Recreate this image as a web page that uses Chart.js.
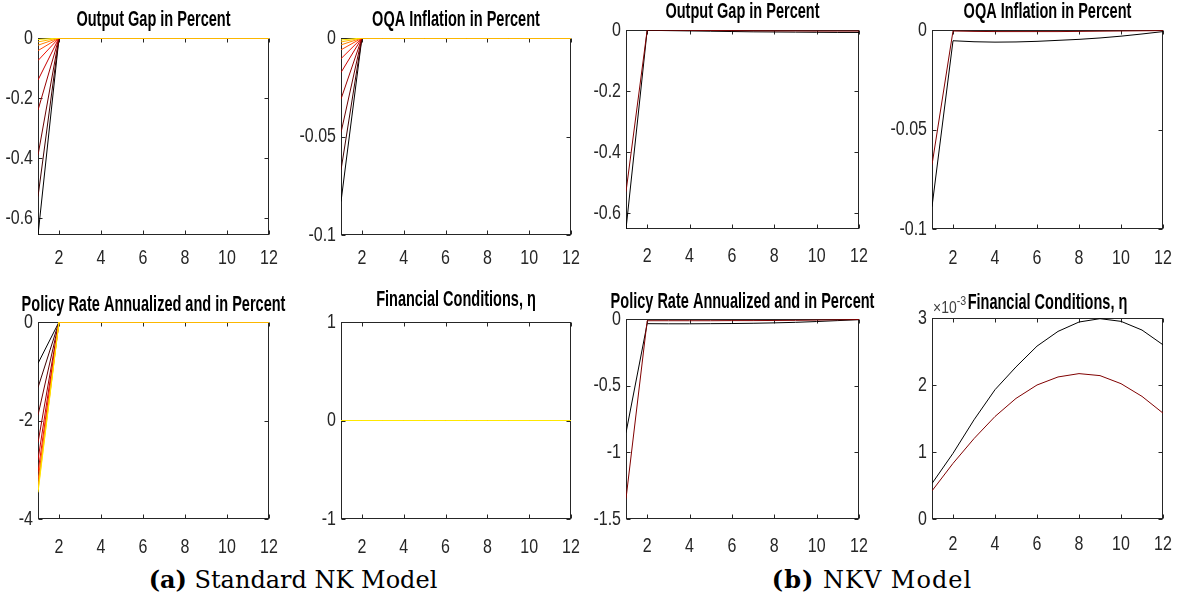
<!DOCTYPE html>
<html>
<head>
<meta charset="utf-8">
<script src="https://cdn.jsdelivr.net/npm/chart.js@4.4.0/dist/chart.umd.min.js"></script>
<style>
  body { margin: 0; background: #fff; width: 1185px; height: 601px; position: relative; overflow: hidden; }
  canvas { position: absolute; }
  .caption { position: absolute; top: 568px; font-family: 'DejaVu Serif', serif; font-size: 24px; line-height: 24px; color: #000; white-space: nowrap; transform: translateX(-50%); }
</style>
</head>
<body>
<div class="caption" style="left:293px"><b>(a)</b> Standard NK Model</div>
<div class="caption" style="left:872px; letter-spacing:1px"><b>(b)</b> NKV Model</div>
<script>
// quarters after the shock
const periods = [1, 2, 3, 4, 5, 6, 7, 8, 9, 10, 11, 12];
const xTickValues = [2, 4, 6, 8, 10, 12];
const zerosAfterImpact = [0, 0, 0, 0, 0, 0, 0, 0, 0, 0, 0];

// Standard NK model: impact response per calibration, black -> yellow
const hotColors = ['#000000', '#3c0000', '#6a0000', '#980000', '#c80000', '#f01000', '#ff4800', '#ff8000', '#ffb800', '#ffe800'];
const nkOutputGapImpact = [-0.656, -0.528, -0.39, -0.24, -0.14, -0.075, -0.042, -0.024, -0.013, -0.005];
const nkInflationImpact = [-0.083, -0.067, -0.048, -0.031, -0.0175, -0.0105, -0.006, -0.0035, -0.002, -0.001];
const nkPolicyRateImpact = [-0.84, -1.33, -1.89, -2.45, -2.8, -3.05, -3.22, -3.33, -3.41, -3.46];
const nkFinancialImpact = [0, 0, 0, 0, 0, 0, 0, 0, 0, 0];

// NKV model: two calibrations
const nkvColors = ['#000000', '#800000'];
const nkvOutputGapBlack = [-0.652, -0.001, -0.002, -0.003, -0.004, -0.005, -0.006, -0.0065, -0.007, -0.0075, -0.008, -0.008];
const nkvOutputGapRed = [-0.53, 0, -0.0005, -0.001, -0.0015, -0.002, -0.0025, -0.003, -0.003, -0.0035, -0.0035, -0.0035];
const nkvInflationBlack = [-0.0888, -0.0054, -0.0059, -0.0061, -0.006, -0.0057, -0.0052, -0.0047, -0.004, -0.0031, -0.002, -0.0008];
const nkvInflationRed = [-0.0677, -0.0005, -0.0007, -0.0008, -0.0008, -0.0008, -0.0008, -0.0007, -0.0006, -0.0005, -0.0004, -0.0003];
const nkvPolicyRateBlack = [-0.853, -0.035, -0.036, -0.036, -0.035, -0.034, -0.032, -0.029, -0.025, -0.019, -0.012, -0.005];
const nkvPolicyRateRed = [-1.347, -0.013, -0.013, -0.013, -0.013, -0.012, -0.012, -0.011, -0.01, -0.008, -0.006, -0.004];
const nkvFinancialBlack = [0.00053, 0.00098, 0.00148, 0.00193, 0.00227, 0.00258, 0.0028, 0.00294, 0.00299, 0.00295, 0.00282, 0.0026];
const nkvFinancialRed = [0.00042, 0.00083, 0.0012, 0.00153, 0.0018, 0.002, 0.00212, 0.00217, 0.00214, 0.00202, 0.00183, 0.00158];

// y tick labels per panel
const outputGapTicks = [-0.6, -0.4, -0.2, 0];
const inflationTicks = [-0.1, -0.05, 0];
const nkPolicyTicks = [-4, -2, 0];
const nkFinancialTicks = [-1, 0, 1];
const nkvPolicyTicks = [-1.5, -1, -0.5, 0];
const nkvFinancialTicks = [0, 0.001, 0.002, 0.003];

const SANS = "'Liberation Sans', Arial, sans-serif";
const TICK_FS = 20;
const TICK_NARROW = 0.8;
const TITLE_FS = 22;
const TITLE_NARROW = 0.66;   // titles are set in a condensed bold face

const nkSeries = impacts => impacts.map(v => [v, ...zerosAfterImpact]);

const panels = [
  { title: 'Output Gap in Percent', box: [38, 38, 269, 235], titleY: 20, xGap: 11, min: -0.656, max: 0, ticks: outputGapTicks, series: nkSeries(nkOutputGapImpact), colors: hotColors },
  { title: 'OQA Inflation in Percent', box: [341, 38, 571, 235], titleY: 20, xGap: 11, min: -0.1, max: 0, ticks: inflationTicks, series: nkSeries(nkInflationImpact), colors: hotColors },
  { title: 'Output Gap in Percent', box: [626, 30, 859, 229], titleY: 12, xGap: 15, min: -0.652, max: 0, ticks: outputGapTicks, series: [nkvOutputGapBlack, nkvOutputGapRed], colors: nkvColors },
  { title: 'OQA Inflation in Percent', box: [932, 30, 1163, 229], titleY: 12, xGap: 17, min: -0.1, max: 0, ticks: inflationTicks, series: [nkvInflationBlack, nkvInflationRed], colors: nkvColors },
  { title: 'Policy Rate Annualized and in Percent', box: [38, 322, 269, 519], titleY: 305, xGap: 16, min: -4, max: 0, ticks: nkPolicyTicks, series: nkSeries(nkPolicyRateImpact), colors: hotColors },
  { title: 'Financial Conditions, η', box: [341, 322, 571, 519], titleY: 300, xGap: 16, min: -1, max: 1, ticks: nkFinancialTicks, series: nkSeries(nkFinancialImpact), colors: hotColors },
  { title: 'Policy Rate Annualized and in Percent', box: [626, 319, 859, 519], titleY: 302, xGap: 15, min: -1.5, max: 0, ticks: nkvPolicyTicks, series: [nkvPolicyRateBlack, nkvPolicyRateRed], colors: nkvColors },
  { title: 'Financial Conditions, η', box: [932, 318, 1163, 519], titleY: 303, xGap: 13, min: 0, max: 0.003, ticks: nkvFinancialTicks, series: [nkvFinancialBlack, nkvFinancialRed], colors: nkvColors, exponent: true }
];

// matlab style box with inward ticks on all four sides
const matlabBox = {
  id: 'matlabBox',
  beforeDatasetsDraw(chart) {
    const { ctx, chartArea: a, scales: { x, y } } = chart;
    const L = Math.round(a.left) + 0.5, R = Math.round(a.right) - 0.5;
    const T = Math.round(a.top) + 0.5, B = Math.round(a.bottom) - 0.5;
    ctx.save();
    ctx.strokeStyle = '#262626';
    ctx.lineWidth = 1;
    ctx.strokeRect(L, T, R - L, B - T);
    ctx.beginPath();
    x.ticks.forEach(t => {
      const px = Math.round(x.getPixelForValue(t.value)) + 0.5;
      ctx.moveTo(px, B); ctx.lineTo(px, B - 4);
      ctx.moveTo(px, T); ctx.lineTo(px, T + 4);
    });
    y.ticks.forEach(t => {
      const py = Math.round(y.getPixelForValue(t.value)) + 0.5;
      ctx.moveTo(L, py); ctx.lineTo(L + 4, py);
      ctx.moveTo(R, py); ctx.lineTo(R - 4, py);
    });
    ctx.stroke();
    ctx.restore();
  }
};

// condensed look: squeeze the title box and give tick labels a maxWidth
const narrowText = {
  id: 'narrowText',
  beforeDraw(chart) {
    const { ctx, chartArea: a } = chart;
    ctx.save();
    const tb = chart.titleBlock;
    if (tb) {
      ctx.font = 'bold ' + TITLE_FS + 'px ' + SANS;
      const w = ctx.measureText(tb.options.text).width * TITLE_NARROW;
      const cx = (a.left + a.right) / 2;
      tb.left = cx - w / 2;
      tb.right = cx + w / 2;
    }
    [chart.scales.x, chart.scales.y].forEach(scale => {
      scale.getLabelItems(a).forEach(item => {
        ctx.font = item.font.string;
        item.options.maxWidth = ctx.measureText(String(item.label)).width * TICK_NARROW;
      });
    });
    ctx.restore();
  }
};

// "x10^-3" multiplier above the axis
const exponentLabel = {
  id: 'exponentLabel',
  afterDraw(chart) {
    const { ctx, chartArea: a } = chart;
    ctx.save();
    ctx.fillStyle = '#404040';
    ctx.textBaseline = 'alphabetic';
    ctx.font = '17px ' + SANS;
    const base = '\u00d710';
    const bw = ctx.measureText(base).width * 0.82;
    ctx.fillText(base, a.left + 1, a.top - 5, bw);
    ctx.font = '13px ' + SANS;
    ctx.fillText('-3', a.left + 1 + bw, a.top - 13, ctx.measureText('-3').width * 0.82);
    ctx.restore();
  }
};

function makePanel(p) {
  const [left, top, right, bottom] = p.box;
  const m = Math.min(48, left);
  const canvasTop = Math.round(p.titleY - TITLE_FS / 2);
  const titleBlock = top - canvasTop;
  const xAxisH = 46;
  const w = right - left + 2 * m;
  const h = titleBlock + (bottom - top) + xAxisH;
  const canvas = document.createElement('canvas');
  canvas.width = w;
  canvas.height = h;
  canvas.style.left = (left - m) + 'px';
  canvas.style.top = canvasTop + 'px';
  canvas.style.width = w + 'px';
  canvas.style.height = h + 'px';
  document.body.appendChild(canvas);

  const n = p.series.length;
  const datasets = p.series.map((s, i) => ({
    data: periods.map((t, k) => ({ x: t, y: s[k] })),
    borderColor: p.colors[i],
    borderWidth: 1,
    pointRadius: 0,
    fill: false,
    tension: 0,
    order: n - i
  }));

  const tickFont = { family: SANS, size: TICK_FS };
  new Chart(canvas, {
    type: 'line',
    data: { datasets },
    options: {
      responsive: false,
      animation: false,
      devicePixelRatio: 1,
      layout: { padding: { left: 0, right: m, top: 0, bottom: 0 } },
      plugins: {
        legend: { display: false },
        tooltip: { enabled: false },
        title: {
          display: true,
          text: p.title,
          color: '#000',
          font: { family: SANS, size: TITLE_FS, weight: 'bold', lineHeight: 1 },
          padding: { top: 0, bottom: titleBlock - TITLE_FS }
        }
      },
      scales: {
        x: {
          type: 'linear',
          min: 1,
          max: 12,
          afterBuildTicks: s => { s.ticks = xTickValues.map(v => ({ value: v })); },
          afterFit: s => { s.height = xAxisH; },
          grid: { display: false, drawTicks: false },
          border: { display: false },
          ticks: { font: tickFont, color: '#262626', padding: p.xGap, maxRotation: 0, autoSkip: false, callback: v => String(v) }
        },
        y: {
          type: 'linear',
          min: p.min,
          max: p.max,
          afterBuildTicks: s => { s.ticks = p.ticks.map(v => ({ value: v })); },
          afterFit: s => { s.width = m; },
          grid: { display: false, drawTicks: false },
          border: { display: false },
          ticks: {
            font: tickFont, color: '#262626', padding: 5, autoSkip: false,
            callback: v => p.exponent ? String(Math.round(v * 1000)) : String(v)
          }
        }
      }
    },
    plugins: p.exponent ? [matlabBox, narrowText, exponentLabel] : [matlabBox, narrowText]
  });
}

panels.forEach(makePanel);
</script>
</body>
</html>
